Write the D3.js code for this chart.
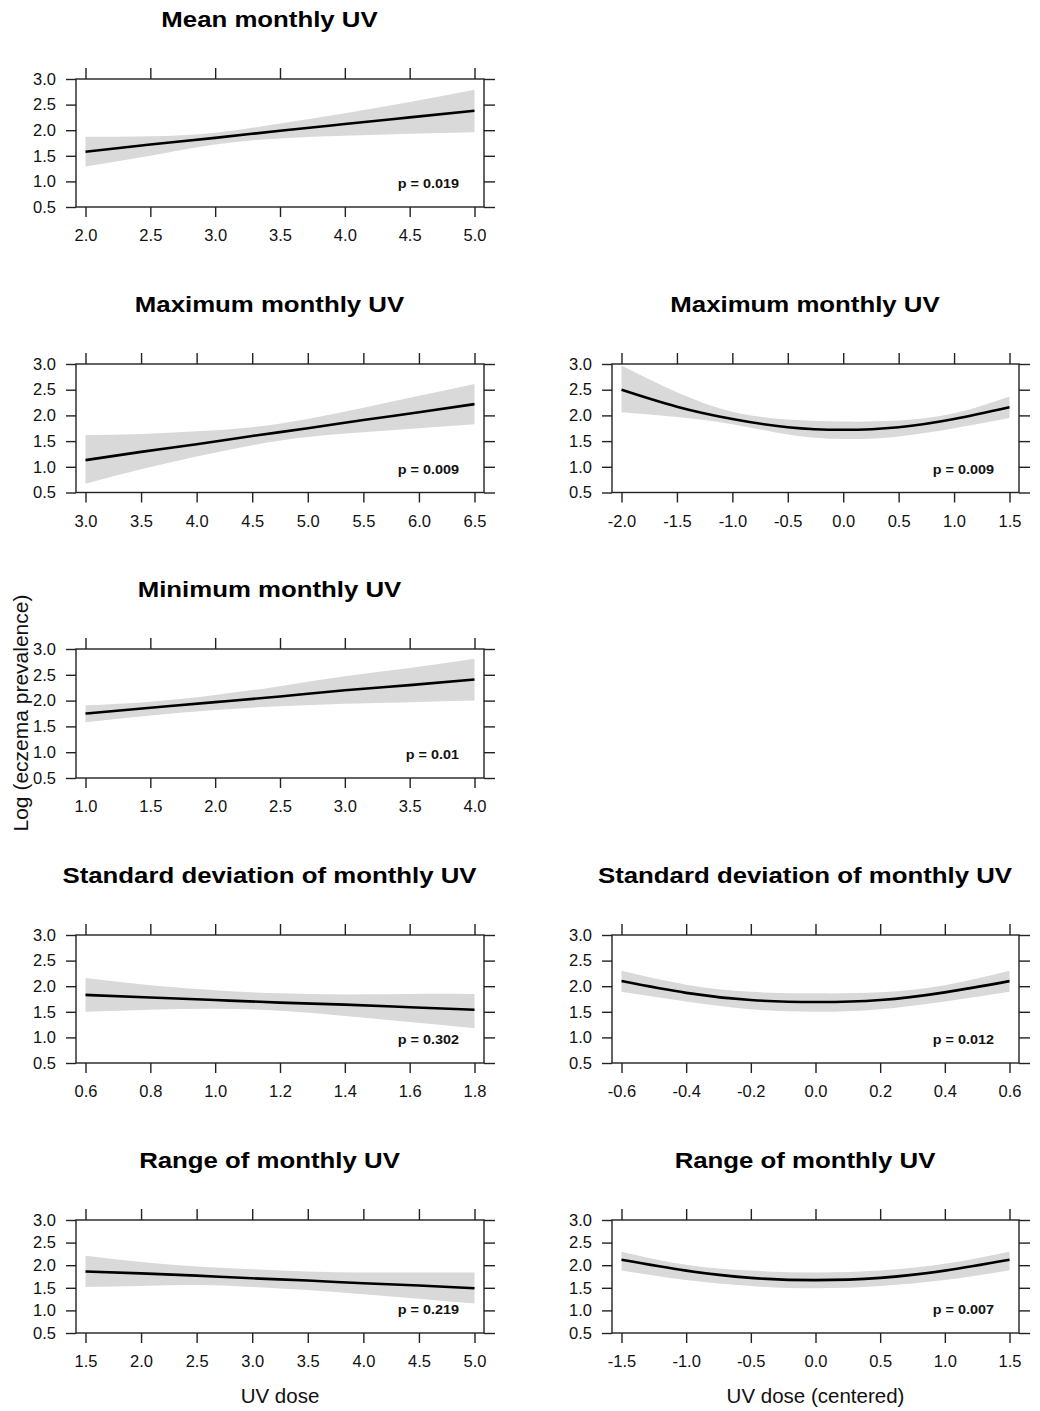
<!DOCTYPE html>
<html><head><meta charset="utf-8">
<script src="https://cdn.jsdelivr.net/npm/d3@7"></script>
<style>
body{margin:0;background:#fff;}
svg{display:block;font-family:"Liberation Sans",Arial,Helvetica,sans-serif;}
</style></head>
<body><svg id="c" width="1040" height="1411"></svg>
<script>
// ---------- data ----------
const yTicks = [0.5, 1.0, 1.5, 2.0, 2.5, 3.0];

const meanX   = [2.0, 2.5, 3.0, 3.5, 4.0, 4.5, 5.0];
const meanFit = [1.58, 1.72, 1.85, 1.99, 2.12, 2.25, 2.38];
const meanLo  = [1.29, 1.50, 1.72, 1.84, 1.89, 1.93, 1.96];
const meanHi  = [1.87, 1.88, 1.95, 2.13, 2.33, 2.55, 2.79];

const maxX   = [3.0, 3.5, 4.0, 4.5, 5.0, 5.5, 6.0, 6.5];
const maxFit = [1.13, 1.29, 1.44, 1.60, 1.75, 1.91, 2.06, 2.22];
const maxLo  = [0.67, 0.95, 1.20, 1.42, 1.58, 1.67, 1.75, 1.83];
const maxHi  = [1.62, 1.64, 1.69, 1.77, 1.93, 2.15, 2.38, 2.61];

const maxCX   = [-2.0, -1.5, -1.0, -0.5, 0.0, 0.5, 1.0, 1.5];
const maxCFit = [2.50, 2.17, 1.93, 1.77, 1.72, 1.77, 1.93, 2.16];
const maxCLo  = [2.06, 1.97, 1.83, 1.63, 1.54, 1.59, 1.75, 1.95];
const maxCHi  = [2.97, 2.45, 2.07, 1.92, 1.88, 1.90, 2.04, 2.37];

const minX   = [1.0, 1.5, 2.0, 2.5, 3.0, 3.5, 4.0];
const minFit = [1.75, 1.86, 1.97, 2.08, 2.20, 2.30, 2.41];
const minLo  = [1.58, 1.71, 1.82, 1.89, 1.94, 1.97, 2.00];
const minHi  = [1.91, 1.98, 2.11, 2.28, 2.47, 2.63, 2.81];

const sdX   = [0.6, 0.8, 1.0, 1.2, 1.4, 1.6, 1.8];
const sdFit = [1.83, 1.78, 1.73, 1.68, 1.64, 1.59, 1.54];
const sdLo  = [1.50, 1.54, 1.56, 1.52, 1.42, 1.30, 1.18];
const sdHi  = [2.16, 2.02, 1.92, 1.86, 1.84, 1.85, 1.85];

const sdCX   = [-0.6, -0.4, -0.2, 0.0, 0.2, 0.4, 0.6];
const sdCFit = [2.10, 1.87, 1.73, 1.69, 1.73, 1.88, 2.10];
const sdCLo  = [1.89, 1.70, 1.55, 1.50, 1.55, 1.70, 1.89];
const sdCHi  = [2.30, 2.03, 1.89, 1.86, 1.88, 2.02, 2.30];

const rngX   = [1.5, 2.0, 2.5, 3.0, 3.5, 4.0, 4.5, 5.0];
const rngFit = [1.86, 1.82, 1.77, 1.71, 1.66, 1.60, 1.55, 1.49];
const rngLo  = [1.52, 1.54, 1.56, 1.52, 1.45, 1.36, 1.26, 1.15];
const rngHi  = [2.21, 2.07, 1.97, 1.91, 1.86, 1.84, 1.84, 1.84];

const rngCX   = [-1.5, -1.0, -0.5, 0.0, 0.5, 1.0, 1.5];
const rngCFit = [2.12, 1.88, 1.72, 1.67, 1.72, 1.88, 2.12];
const rngCLo  = [1.88, 1.67, 1.54, 1.49, 1.54, 1.67, 1.89];
const rngCHi  = [2.30, 2.01, 1.88, 1.84, 1.88, 2.03, 2.30];

const titles = ["Mean monthly UV", "Maximum monthly UV", "Maximum monthly UV",
  "Minimum monthly UV", "Standard deviation of monthly UV", "Standard deviation of monthly UV",
  "Range of monthly UV", "Range of monthly UV"];
const pLabels = ["p = 0.019", "p = 0.009", "p = 0.009", "p = 0.01",
  "p = 0.302", "p = 0.012", "p = 0.219", "p = 0.007"];
const xTickSets = [
  [2.0, 2.5, 3.0, 3.5, 4.0, 4.5, 5.0],
  [3.0, 3.5, 4.0, 4.5, 5.0, 5.5, 6.0, 6.5],
  [-2.0, -1.5, -1.0, -0.5, 0.0, 0.5, 1.0, 1.5],
  [1.0, 1.5, 2.0, 2.5, 3.0, 3.5, 4.0],
  [0.6, 0.8, 1.0, 1.2, 1.4, 1.6, 1.8],
  [-0.6, -0.4, -0.2, 0.0, 0.2, 0.4, 0.6],
  [1.5, 2.0, 2.5, 3.0, 3.5, 4.0, 4.5, 5.0],
  [-1.5, -1.0, -0.5, 0.0, 0.5, 1.0, 1.5]
];
const xLabels = ["UV dose", "UV dose (centered)"];
const yLabel = "Log (eczema prevalence)";

// ---------- layout ----------
const cols = [{l: 76, r: 484}, {l: 612, r: 1019}];
const rows = [{t: 79, b: 207}, {t: 364, b: 492.5}, {t: 649, b: 778}, {t: 935, b: 1063}, {t: 1220, b: 1333}];

const panels = [
  {c:0, r:0, x:meanX, fit:meanFit, lo:meanLo, hi:meanHi},
  {c:0, r:1, x:maxX, fit:maxFit, lo:maxLo, hi:maxHi},
  {c:1, r:1, x:maxCX, fit:maxCFit, lo:maxCLo, hi:maxCHi},
  {c:0, r:2, x:minX, fit:minFit, lo:minLo, hi:minHi},
  {c:0, r:3, x:sdX, fit:sdFit, lo:sdLo, hi:sdHi},
  {c:1, r:3, x:sdCX, fit:sdCFit, lo:sdCLo, hi:sdCHi},
  {c:0, r:4, x:rngX, fit:rngFit, lo:rngLo, hi:rngHi},
  {c:1, r:4, x:rngCX, fit:rngCFit, lo:rngCLo, hi:rngCHi}
];

const svg = d3.select("#c");
const ink = "#222";
const f1 = d3.format(".1f");
const fmt = v => f1(v).replace("\u2212", "-");

panels.forEach((p, i) => {
  const col = cols[p.c], row = rows[p.r];
  const ticks = xTickSets[i];
  const pad = 9.5;
  const x = d3.scaleLinear().domain([ticks[0], ticks[ticks.length-1]]).range([col.l + pad, col.r - pad]);
  const y = d3.scaleLinear().domain([0.5, 3.0]).range([row.b, row.t]);
  const g = svg.append("g");
  const pts = p.x.map((v, k) => ({x: v, f: p.fit[k], lo: p.lo[k], hi: p.hi[k]}));

  g.append("path").datum(pts)
    .attr("d", d3.area().x(d => x(d.x)).y0(d => y(d.lo)).y1(d => y(d.hi)).curve(d3.curveNatural))
    .attr("fill", "#d9d9d9");
  g.append("path").datum(pts)
    .attr("d", d3.line().x(d => x(d.x)).y(d => y(d.f)).curve(d3.curveNatural))
    .attr("fill", "none").attr("stroke", "#000").attr("stroke-width", 2.6);

  g.append("rect").attr("x", col.l).attr("y", row.t)
    .attr("width", col.r - col.l).attr("height", row.b - row.t)
    .attr("fill", "none").attr("stroke", ink).attr("stroke-width", 1.4);

  const styleAxis = sel => {
    sel.select(".domain").remove();
    sel.selectAll("line").attr("stroke", ink).attr("stroke-width", 1.4);
    sel.selectAll("text").attr("fill", "#111").style("font-size", "16.5px")
      .style("font-family", '"Liberation Sans",Arial,sans-serif');
  };
  g.append("g").attr("transform", `translate(0,${row.b})`)
    .call(d3.axisBottom(x).tickValues(ticks).tickFormat(fmt).tickSize(10).tickPadding(12.4)).call(styleAxis);
  g.append("g").attr("transform", `translate(0,${row.t})`)
    .call(d3.axisTop(x).tickValues(ticks).tickFormat("").tickSize(11)).call(styleAxis);
  g.append("g").attr("transform", `translate(${col.l},0)`)
    .call(d3.axisLeft(y).tickValues(yTicks).tickFormat(fmt).tickSize(10).tickPadding(10)).call(styleAxis);
  g.append("g").attr("transform", `translate(${col.r},0)`)
    .call(d3.axisRight(y).tickValues(yTicks).tickFormat("").tickSize(11)).call(styleAxis);

  // title
  const cx = (col.l + col.r) / 2 - 10.5;
  g.append("text").attr("transform", `translate(${cx},${row.t - 52}) scale(1.2,1)`)
    .attr("text-anchor", "middle").style("font-size", "21.5px").style("font-weight", "bold")
    .attr("fill", "#000").text(titles[i]);
  // p value
  g.append("text").attr("transform", `translate(${col.r - 25},${row.b - 19}) scale(1.2,1)`)
    .attr("text-anchor", "end").style("font-size", "12px").style("font-weight", "bold")
    .attr("fill", "#111").text(pLabels[i]);
});

// axis titles
cols.forEach((col, k) => {
  svg.append("text").attr("x", (col.l + col.r) / 2).attr("y", 1403)
    .attr("text-anchor", "middle").style("font-size", "20.5px").attr("fill", "#111").text(xLabels[k]);
});
svg.append("text").attr("transform", "translate(28,713) rotate(-90)")
  .attr("text-anchor", "middle").style("font-size", "21px").attr("fill", "#111").text(yLabel);
</script></body></html>
